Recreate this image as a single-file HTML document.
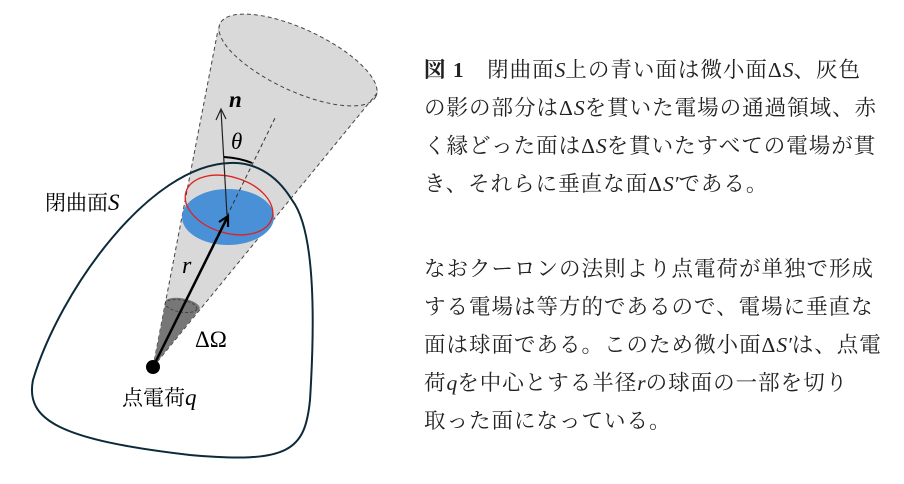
<!DOCTYPE html>
<html><head><meta charset="utf-8"><style>
html,body{margin:0;padding:0;background:#fff;}
body{width:904px;height:484px;position:relative;overflow:hidden;font-family:"Liberation Serif","Noto Serif CJK JP",serif;color:#222;}
.l{position:absolute;left:424px;font-size:21.5px;letter-spacing:1px;white-space:nowrap;line-height:1;}
i{font-style:italic;letter-spacing:0;}
</style></head><body>
<svg width="904" height="484" style="position:absolute;left:0;top:0">
  <path d="M153 367 L218 30 A85 30 25 0 1 378 92 Z" fill="#d9d9d9"/>
  <ellipse cx="298" cy="60" rx="86" ry="31" transform="rotate(25 298 60)" fill="#d9d9d9" stroke="#444" stroke-dasharray="4 3"/>
  <line x1="153" y1="367" x2="218" y2="30" stroke="#444" stroke-dasharray="4 3"/>
  <line x1="153" y1="367" x2="378" y2="92" stroke="#444" stroke-dasharray="4 3"/>
  <path d="M230 163 C150 165,60 290,33 380 C25 420,60 440,190 455 C290 464,305 450,310 400 C315 320,315 230,292 200 C275 172,252 162,230 163 Z" fill="none" stroke="#0d2a3a" stroke-width="2"/>
  <ellipse cx="228" cy="217" rx="46" ry="28" fill="#4a90d6"/>
  <ellipse cx="229" cy="205" rx="45" ry="28" transform="rotate(17 229 205)" fill="none" stroke="#e0201c" stroke-width="1.3"/>
  <line x1="153" y1="367" x2="276" y2="116" stroke="#333" stroke-dasharray="4 3"/>
  <path d="M153 367 L166 300 A15 6 10 0 1 198 311 Z" fill="#777"/>
  <ellipse cx="181" cy="306" rx="16" ry="6" transform="rotate(10 181 306)" fill="none" stroke="#444" stroke-dasharray="3 2"/>
  <line x1="227" y1="215" x2="221" y2="110" stroke="#222" stroke-width="1.2"/>
  <path d="M216 120 L221 109 L226 119" fill="none" stroke="#222" stroke-width="1.2"/>
  <line x1="155" y1="363" x2="227" y2="218" stroke="#000" stroke-width="2.5"/>
  <path d="M219 222 L228 216 L228 227" fill="none" stroke="#000" stroke-width="2.2"/>
  <path d="M224 157 Q240 158 252 163" fill="none" stroke="#000" stroke-width="2"/>
  <circle cx="153" cy="367" r="7" fill="#000"/>
  <text x="229" y="107" font-family="Liberation Serif" font-size="23" font-weight="bold" font-style="italic">n</text>
  <text x="231" y="149" font-family="Liberation Serif" font-size="23" font-style="italic">θ</text>
  <text x="182" y="273" font-family="Liberation Serif" font-size="24" font-style="italic">r</text>
  <text x="195" y="347" font-family="Liberation Serif" font-size="23">ΔΩ</text>
  <text x="45" y="210" font-family="Liberation Serif,Noto Serif CJK JP,serif" font-size="21">閉曲面<tspan font-style="italic" font-size="23">S</tspan></text>
  <text x="122" y="405" font-family="Liberation Serif,Noto Serif CJK JP,serif" font-size="21">点電荷<tspan font-style="italic" font-size="23">q</tspan></text>
</svg>
<div class="l" style="top:60px"><b>図 1</b>　閉曲面<i>S</i>上の青い面は微小面Δ<i>S</i>、灰色</div>
<div class="l" style="top:98px">の影の部分はΔ<i>S</i>を貫いた電場の通過領域、赤</div>
<div class="l" style="top:136px">く縁どった面はΔ<i>S</i>を貫いたすべての電場が貫</div>
<div class="l" style="top:174px">き、それらに垂直な面Δ<i>S′</i>である。</div>
<div class="l" style="top:259px">なおクーロンの法則より点電荷が単独で形成</div>
<div class="l" style="top:297px">する電場は等方的であるので、電場に垂直な</div>
<div class="l" style="top:335px">面は球面である。このため微小面Δ<i>S′</i>は、点電</div>
<div class="l" style="top:373px">荷<i>q</i>を中心とする半径<i>r</i>の球面の一部を切り</div>
<div class="l" style="top:411px">取った面になっている。</div>
</body></html>
